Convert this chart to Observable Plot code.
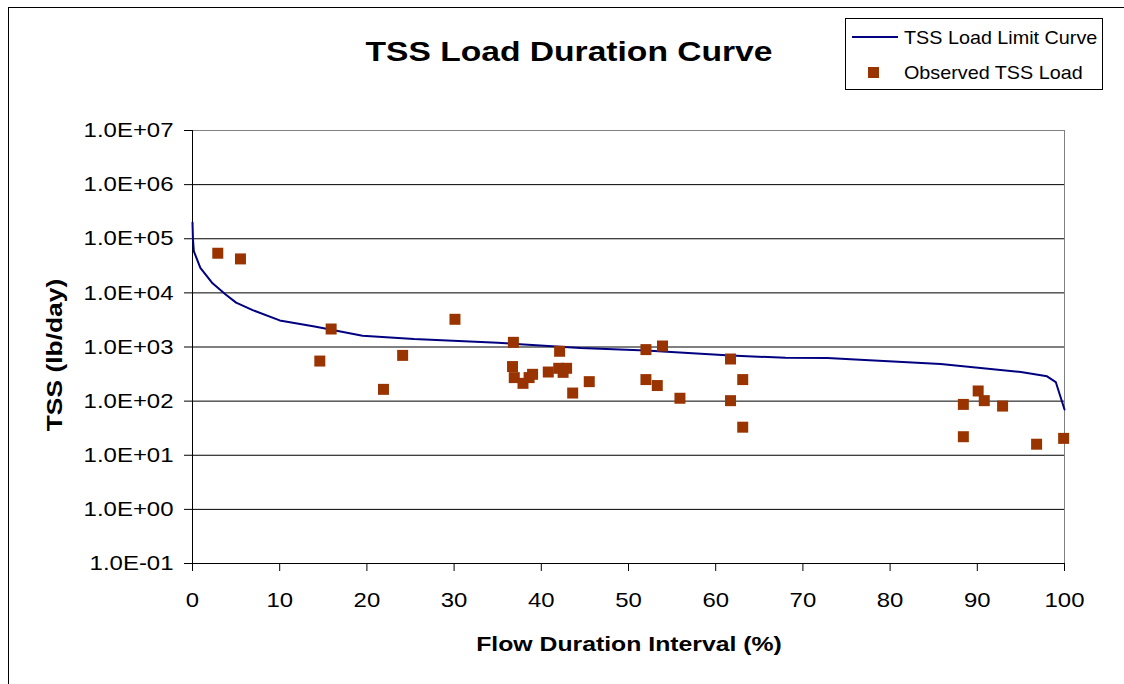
<!DOCTYPE html>
<html>
<head>
<meta charset="utf-8">
<script src="https://cdn.jsdelivr.net/npm/d3@7"></script>
<script src="https://cdn.jsdelivr.net/npm/@observablehq/plot@0.6"></script>
<style>
  html, body { margin: 0; padding: 0; background: #fff; }
  body { width: 1124px; height: 684px; position: relative; overflow: hidden; font-family: "Liberation Sans", Arial, sans-serif; }
  #chart { position: absolute; left: 0; top: 0; }
  .abs { position: absolute; white-space: nowrap; color: #000; }
  #border { position: absolute; left: 8px; top: 7px; width: 1200px; height: 800px; border: 1px solid #000; box-sizing: border-box; }
</style>
</head>
<body>
<div id="border"></div>
<div id="chart"></div>
<div class="abs" id="title" style="left:569px; top:38px; font-size:28px; line-height:28px; font-weight:bold; transform:translateX(-50%) scaleX(1.2);">TSS Load Duration Curve</div>
<div class="abs" id="xlabel" style="left:629px; top:633px; font-size:21px; line-height:21px; font-weight:bold; transform:translateX(-50%) scaleX(1.18);">Flow Duration Interval (%)</div>
<div class="abs" id="ylabel" style="left:55px; top:355px; font-size:22px; line-height:22px; font-weight:bold; transform:translate(-50%,-50%) rotate(-90deg) scaleX(1.2);">TSS (lb/day)</div>
<div class="abs" id="legend" style="left:845px; top:18px; width:258px; height:72px; border:1px solid #000; box-sizing:border-box; background:#fff;">
  <div class="abs" style="left:6px; top:17px; width:46px; height:0; border-top:2px solid #000080;"></div>
  <div class="abs" style="left:58px; top:9px; font-size:19px; line-height:19px; transform-origin:left center; transform:scaleX(1.04);">TSS Load Limit Curve</div>
  <div class="abs" style="left:22px; top:48px; width:11px; height:11px; background:#993300;"></div>
  <div class="abs" style="left:58px; top:44px; font-size:19px; line-height:19px; transform-origin:left center; transform:scaleX(1.04);">Observed TSS Load</div>
</div>
<script>
// Load limit curve (flow duration interval %, TSS lb/day)
const curveX = [0, 0.05, 0.15, 0.9, 2.3, 3.8, 5, 6.9, 10, 14, 19.5, 25.4, 35, 44.5, 52, 61.7, 68, 72.8, 76, 85.8, 95, 98, 99, 99.4, 100];
const curveY = [200000, 100000, 59000, 29000, 15000, 9300, 6600, 4800, 3100, 2400, 1620, 1400, 1200, 955, 860, 700, 630, 627, 590, 485, 345, 287, 225, 141, 70];

// Observed loads
const obsX = [2.9, 5.5, 14.6, 15.9, 21.9, 24.1, 30.1, 36.7, 36.8, 36.9, 37.9, 38.6, 39.0, 40.8, 42.0, 42.1, 42.5, 42.9, 43.6, 45.5, 52.0, 52.0, 53.3, 53.9, 55.9, 61.7, 61.7, 63.1, 63.1, 88.4, 88.4, 90.1, 90.8, 92.9, 96.8, 99.9];
const obsY = [54000, 42400, 550, 2150, 165, 700, 3250, 435, 1220, 272, 213, 272, 313, 345, 404, 834, 340, 404, 141, 229, 895, 250, 194, 1043, 113, 600, 102, 250, 33, 87, 22, 154, 102, 81, 16, 20.5];

// Axis ticks
const xTicks = [0, 10, 20, 30, 40, 50, 60, 70, 80, 90, 100];
const yTicks = [0.1, 1, 10, 100, 1000, 10000, 100000, 1000000, 10000000];
const yTickLabels = ["1.0E-01", "1.0E+00", "1.0E+01", "1.0E+02", "1.0E+03", "1.0E+04", "1.0E+05", "1.0E+06", "1.0E+07"];

const curve = curveX.map((x, i) => ({x, y: curveY[i]}));
const obs = obsX.map((x, i) => ({x, y: obsY[i]}));

const chart = Plot.plot({
  width: 1124,
  height: 684,
  marginLeft: 192,
  marginRight: 60,
  marginTop: 130,
  marginBottom: 121,
  style: {fontFamily: "'Liberation Sans', Arial, sans-serif", fontSize: "21px", color: "#000", background: "transparent"},
  x: {domain: [0, 100], label: null},
  y: {type: "log", domain: [0.1, 1e7], label: null},
  marks: [
    Plot.ruleY(yTicks.slice(1), {stroke: "#000", strokeWidth: 1, strokeOpacity: 1}),
    Plot.frame({stroke: "#808080", strokeWidth: 1}),
    Plot.ruleX([0], {stroke: "#000", strokeWidth: 1}),
    Plot.ruleY([0.1], {stroke: "#000", strokeWidth: 1}),
    Plot.axisX({ticks: xTicks, tickSize: 8, tickPadding: 21, tickFormat: d => String(d), label: null, stroke: "#000", fontSize: 21}),
    Plot.axisY({ticks: yTicks, tickSize: 8, tickPadding: 11, tickFormat: d => yTickLabels[Math.round(Math.log10(d)) + 1], label: null, stroke: "#000", fontSize: 21}),
    Plot.line(curve, {x: "x", y: "y", stroke: "#000080", strokeWidth: 2}),
    Plot.dot(obs, {x: "x", y: "y", symbol: "square", r: 6.2, fill: "#993300", stroke: "none"})
  ]
});
document.getElementById("chart").appendChild(chart);

// Horizontally stretch the tick labels like the original rendering
chart.querySelectorAll("text").forEach(t => {
  const w = t.getComputedTextLength();
  if (w > 0) {
    t.setAttribute("textLength", (w * 1.14).toFixed(1));
    t.setAttribute("lengthAdjust", "spacingAndGlyphs");
  }
});
</script>
</body>
</html>
